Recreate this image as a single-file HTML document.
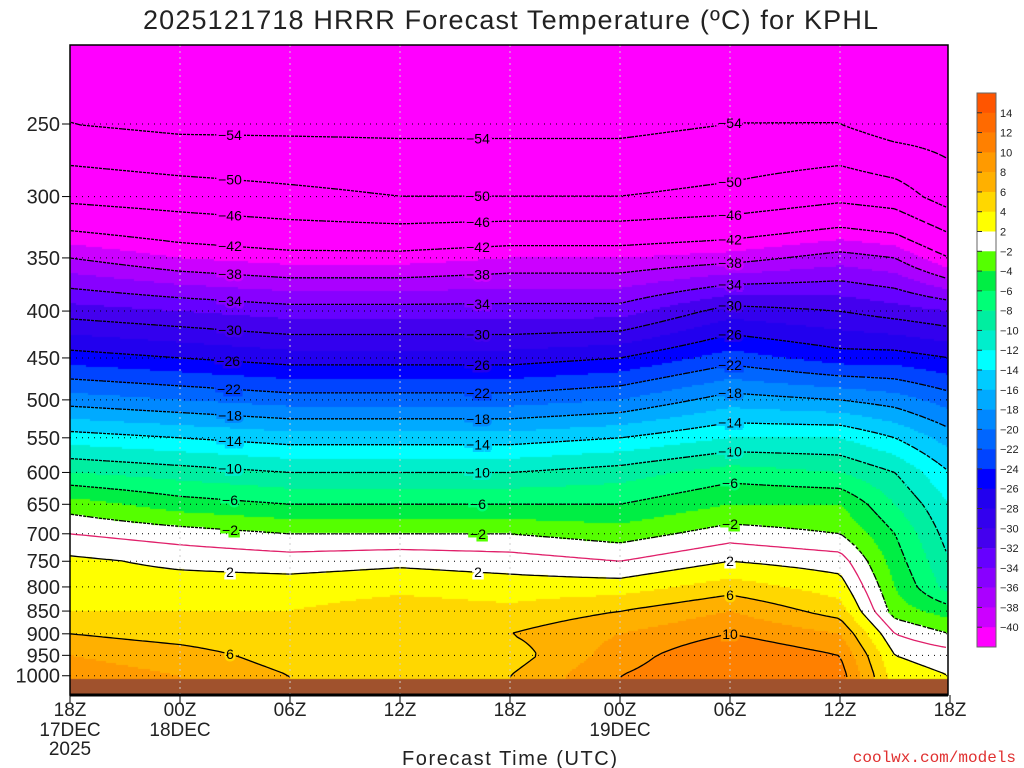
<!DOCTYPE html>
<html><head><meta charset="utf-8">
<style>
body{margin:0;background:#fff;width:1024px;height:768px;overflow:hidden;font-family:"Liberation Sans",sans-serif}
#wrap{position:relative;width:1024px;height:768px}
canvas{position:absolute;left:0;top:0}
svg{position:absolute;left:0;top:0}
</style></head><body>
<div id="wrap">
<canvas id="cv" width="1024" height="768"></canvas>
<svg id="sv" width="1024" height="768"></svg>
</div>
<script>
// ---- data ----
const pressureLevels=[200,250,300,350,400,450,500,550,600,650,700,750,800,850,900,950,1000,1050];
const forecastHours=[0,6,12,18,24,30,36,42,45,48];
const tempH0 =[-55,-54,-47,-38,-31,-25,-19,-13,-8,-3,0,2.5,3,4,6,8,9,9];
const tempH6 =[-56,-55,-48,-40,-32,-26,-20,-14,-9,-5,-1,1.5,3,4,5,7,8,8];
const tempH12=[-56,-55,-49,-41,-33,-27,-21,-15,-10,-6,-2,1,3,4,4,5,6,6];
const tempH18=[-56,-55,-50,-41,-33,-27,-21,-15,-10,-6,-2,1.5,3.5,5,6,5,5,5];
const tempH24=[-56,-55,-50,-40,-33,-27,-21,-15,-10,-6,-2,1,3,4.5,6,5,6,6];
const tempH30=[-56,-55,-50,-40,-33,-26,-20,-14,-9,-6,-3,0,3,6,8,9,10,10];
const tempH36=[-56,-54,-49,-39,-29,-23,-17,-12,-7,-4,-1,2,5,8,10,12,12,12];
const tempH42=[-56,-54,-47,-37,-30,-25,-18,-12,-8,-4,-2,1,3,5,8,10,11,11];
const tempH45=[-57,-56,-48,-38,-31,-25,-19,-14,-10,-8,-6,-5,-4,-3,0,2,3,3];
const tempH48=[-57,-56,-52,-42,-32,-26,-21,-17,-14,-12,-11,-10,-9,-5,-2,1,2,2];
const profiles=[tempH0,tempH6,tempH12,tempH18,tempH24,tempH30,tempH36,tempH42,tempH45,tempH48];
const yTicks=[250,300,350,400,450,500,550,600,650,700,750,800,850,900,950,1000];
const xTickLabels=["18Z","00Z","06Z","12Z","18Z","00Z","06Z","12Z","18Z"];
const xDateLabels={0:"17DEC",1:"18DEC",5:"19DEC"};
const cbarLabels=[14,12,10,8,6,4,2,-2,-4,-6,-8,-10,-12,-14,-16,-18,-20,-22,-24,-26,-28,-30,-32,-34,-36,-38,-40];
const colorBins=["#ff5500","#ff6a00","#ff8000","#ff9a00","#ffb000","#ffd700","#ffff00","#ffffff","#55ff00","#00ee44","#00ff77","#00eea0","#00eecc","#00ffff","#00ccff","#00aaff","#0088ff","#0066ff","#0044ff","#0000ff","#2200ee","#3300ee","#4400ee","#6600ff","#8800ff","#aa00ff","#cc00ff","#ff00ff"];
const contourLevels=[-54,-50,-46,-42,-38,-34,-30,-26,-22,-18,-14,-10,-6,-2,0,2,6,10];

// ---- axes ----
const X0=70,X1=948,Y0=45,Y1=695;
const xs=h=>X0+h*(880/48);
const ys=p=>124+398*(Math.log(p)-Math.log(250));
const pAt=y=>Math.exp(Math.log(250)+(y-124)/398);
function tempAt(h,p){
  let i=0;while(i<forecastHours.length-2&&h>forecastHours[i+1])i++;
  let ft=(h-forecastHours[i])/(forecastHours[i+1]-forecastHours[i]);ft=Math.max(0,Math.min(1,ft));
  const lp=Math.log(p);
  let j=0;while(j<pressureLevels.length-2&&p>pressureLevels[j+1])j++;
  let fp=(lp-Math.log(pressureLevels[j]))/(Math.log(pressureLevels[j+1])-Math.log(pressureLevels[j]));fp=Math.max(0,Math.min(1,fp));
  const a=profiles[i],b=profiles[i+1];
  const t1=a[j]+(a[j+1]-a[j])*fp, t2=b[j]+(b[j+1]-b[j])*fp;
  return t1+(t2-t1)*ft;
}
function colorFor(t){
  if(t>=14)return colorBins[0];
  if(t>=2)return colorBins[1+Math.floor((14-t)/2)];
  if(t>=-2)return colorBins[7];
  if(t<-40)return colorBins[27];
  return colorBins[8+Math.floor((-2-t)/2)];
}
const cv=document.getElementById('cv').getContext('2d');
const st=2;
for(let x=X0;x<X1;x+=st){for(let y=Y0;y<Y1;y+=st){
  const h=(x+st/2-X0)/(880/48);const t=tempAt(h,pAt(y+st/2));
  cv.fillStyle=colorFor(t);cv.fillRect(x,y,st,st);
}}
// ground
cv.fillStyle="#a0522d";cv.fillRect(X0,679,X1-X0,Y1-679);

// ---- svg ----
const NS="http://www.w3.org/2000/svg";const sv=document.getElementById('sv');
function mk(tag,attrs,parent){const e=document.createElementNS(NS,tag);for(const k in attrs)e.setAttribute(k,attrs[k]);(parent||sv).appendChild(e);return e;}

// contours via marching squares
const g=4;const nx=Math.floor((X1-X0)/g)+1,ny=Math.floor((679-Y0)/g)+1;
const F=[];for(let i=0;i<nx;i++){F[i]=[];for(let j=0;j<ny;j++){F[i][j]=tempAt((i*g)/(880/48),pAt(Y0+j*g));}}
const contourGroup=mk('g',{});


const labelGroup=mk('g',{});


contourLevels.forEach(L=>{
  let d="";const segs=[];
  for(let i=0;i<nx-1;i++)for(let j=0;j<ny-1;j++){
    const v=[F[i][j],F[i+1][j],F[i+1][j+1],F[i][j+1]];
    const px=[[X0+i*g,Y0+j*g],[X0+(i+1)*g,Y0+j*g],[X0+(i+1)*g,Y0+(j+1)*g],[X0+i*g,Y0+(j+1)*g]];
    const pts=[];
    for(let k=0;k<4;k++){const a=v[k],b=v[(k+1)%4];
      if((a<L)!==(b<L)){const f=(L-a)/(b-a);const p1=px[k],p2=px[(k+1)%4];pts.push([p1[0]+(p2[0]-p1[0])*f,p1[1]+(p2[1]-p1[1])*f]);}}
    for(let k=0;k+1<pts.length;k+=2){segs.push([pts[k],pts[k+1]]);d+=`M${pts[k][0].toFixed(1)},${pts[k][1].toFixed(1)}L${pts[k+1][0].toFixed(1)},${pts[k+1][1].toFixed(1)}`;}
  }
  const col=L===0?"#e0206a":"#000";
  const p=mk('path',{d:d,fill:"none",stroke:col,"stroke-width":1.3,"stroke-dasharray":L<0?"3 2":"none"},contourGroup);
  
  
  if(L===0||!segs.length)return;
  [230,480,730].forEach(tx=>{
    let best=null,bd=1e9;segs.forEach(s=>{const dd=Math.abs(s[0][0]-tx);if(dd<bd){bd=dd;best=s;}});
    if(best&&bd<20){
      const bx=best[0][0],by=best[0][1];
      const bg=colorFor(tempAt((bx-X0)/(880/48),pAt(by-6)));
      const t=mk('text',{x:bx,y:by+5,"font-size":14,"text-anchor":"middle",fill:"#000",stroke:bg,"stroke-width":5,"paint-order":"stroke"},labelGroup);
      t.textContent=L<0?"−"+(-L):String(L);
      
      
    }
  });
});

// grid
const grid=mk('g',{stroke:"#000","stroke-width":1,"stroke-dasharray":"1 5"});


yTicks.forEach(p=>mk('line',{x1:X0,x2:X1,y1:ys(p),y2:ys(p)},grid));
const vgrid=mk('g',{stroke:"#ccc","stroke-width":1,"stroke-dasharray":"2 4"});


for(let k=1;k<8;k++)mk('line',{x1:xs(k*6),x2:xs(k*6),y1:Y0,y2:Y1},vgrid);

// frame
const fr=mk('rect',{x:X0,y:Y0,width:X1-X0,height:Y1-Y0,fill:"none",stroke:"#000","stroke-width":1.5});


const bl=mk('line',{x1:X0,x2:X1,y1:Y1,y2:Y1,stroke:"#000","stroke-width":3});



// y axis
yTicks.forEach(p=>{
  const y=ys(p);
  const tk=mk('line',{x1:X0-8,x2:X0,y1:y,y2:y,stroke:"#000"});
  
  
  const t=mk('text',{x:60,y:y+7,"font-size":20,"text-anchor":"end",fill:"#222"});
  t.textContent=p;
  
  
});
// x axis
xTickLabels.forEach((s,k)=>{
  const x=xs(k*6);
  const tk=mk('line',{x1:x,x2:x,y1:Y1,y2:Y1+8,stroke:"#000"});
  
  
  const t=mk('text',{x:x,y:716,"font-size":19,"text-anchor":"middle",fill:"#222"});
  t.textContent=s;
  
  
  if(xDateLabels[k]){
    const t2=mk('text',{x:x,y:736,"font-size":19,"text-anchor":"middle",fill:"#222"});
    t2.textContent=xDateLabels[k];
    
    
  }
});
const yr=mk('text',{x:xs(0),y:755,"font-size":19,"text-anchor":"middle",fill:"#222"});yr.textContent="2025";



// titles
const ti=mk('text',{x:143,y:29,"font-size":27,fill:"#222",textLength:735,lengthAdjust:"spacing"});ti.textContent="2025121718 HRRR Forecast Temperature (ºC) for KPHL";


const xt=mk('text',{x:402,y:765,"font-size":20,fill:"#222",textLength:215,lengthAdjust:"spacing"});xt.textContent="Forecast Time (UTC)";


const cr=mk('text',{x:1016,y:762,"font-size":16,"text-anchor":"end",fill:"#e03030","font-family":"Liberation Mono, monospace"});cr.textContent="coolwx.com/models";



// colorbar
const cb=mk('g',{});


const cbTop=93,cbH=554/colorBins.length;
colorBins.forEach((c,k)=>{
  const r=mk('rect',{x:977,y:cbTop+k*cbH,width:19,height:cbH+0.3,fill:c},cb);
  
  
});
mk('rect',{x:977,y:cbTop,width:19,height:554,fill:"none",stroke:"#666","stroke-width":1},cb);
cbarLabels.forEach((v,k)=>{
  const y=cbTop+(k+1)*cbH;
  mk('line',{x1:977,x2:982,y1:y,y2:y,stroke:"#333"},cb);
  const t=mk('text',{x:1000,y:y+4,"font-size":11,fill:"#222"},cb);
  t.textContent=v<0?"−"+(-v):String(v);
  
  
});
</script>
</body></html>
